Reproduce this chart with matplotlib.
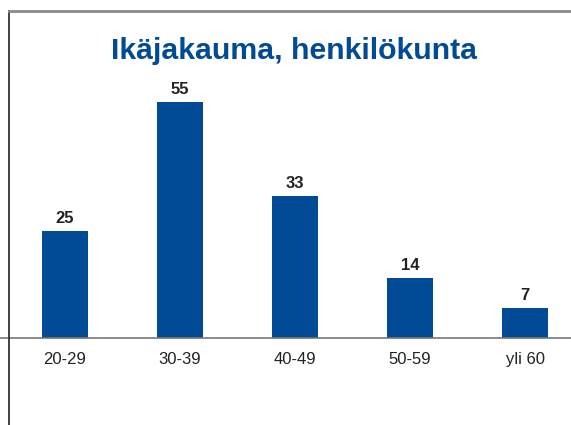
import matplotlib.pyplot as plt
from matplotlib.lines import Line2D

# age groups and headcount
categories = ['20-29', '30-39', '40-49', '50-59', 'yli 60']
counts = [25, 55, 33, 14, 7]

title = 'Ikäjakauma, henkilökunta'
bar_color = '#004A96'

plt.rcParams['font.family'] = ['Liberation Sans', 'DejaVu Sans']

W, H = 571, 425
fig = plt.figure(figsize=(W / 100, H / 100), dpi=100)
fig.patch.set_facecolor('white')

# axes spans full width, baseline at y=338 px, top at y=11 px
ax = fig.add_axes([0, (H - 338) / H, 1, (338 - 11) / H])
ax.set_facecolor('none')

x = list(range(len(categories)))
bars = ax.bar(x, counts, width=0.4, color=bar_color, zorder=2)

ax.set_xlim(-65 / 115, 4 + 46 / 115)
ax.set_ylim(0, 327 / 4.3)

for b, v in zip(bars, counts):
    ax.annotate(str(v), (b.get_x() + b.get_width() / 2, b.get_height()),
                xytext=(0, 3.5), textcoords='offset points',
                ha='center', va='bottom', fontsize=12, fontweight='bold',
                color='#222222')

ax.set_xticks(x)
ax.set_xticklabels(categories, fontsize=12, color='#222222')
ax.tick_params(axis='x', length=0, pad=10)
ax.set_yticks([])
for s in ['top', 'left', 'right']:
    ax.spines[s].set_visible(False)
ax.spines['bottom'].set_color('#777777')
ax.spines['bottom'].set_linewidth(1.2)

# frame lines of the slide
fig.add_artist(Line2D([8.5 / W, 8.5 / W], [0, (H - 11) / H],
                      color='#333333', lw=1.3, transform=fig.transFigure))
fig.add_artist(Line2D([8.5 / W, 1], [(H - 11) / H, (H - 11) / H],
                      color='#8a8a8a', lw=2, transform=fig.transFigure))

fig.text(294 / W, (H - 51) / H, title, ha='center', va='center',
         fontsize=21.8, fontweight='bold', color='#004A96')

fig.savefig('out.png', dpi=100)
